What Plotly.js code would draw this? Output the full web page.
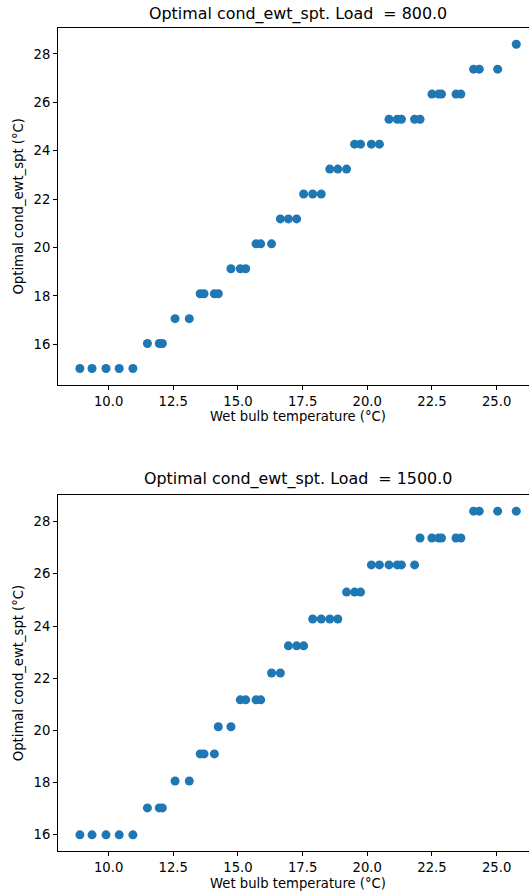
<!DOCTYPE html>
<html>
<head>
<meta charset="utf-8">
<script src="https://cdn.plot.ly/plotly-3.0.1.min.js"></script>
<style>
html, body { margin: 0; padding: 0; overflow: hidden; background: #fff; }
#chart { width: 538px; height: 894px; }
</style>
</head>
<body>
<div id="chart"></div>
<script>
// Wet bulb temperature (°C) — shared by both panels
const wetBulb = [8.89, 9.36, 9.90, 10.41, 10.94, 11.50, 11.96, 12.08, 12.57, 13.12,
  13.54, 13.69, 14.09, 14.24, 14.73, 15.09, 15.30, 15.70, 15.88, 16.30,
  16.64, 16.95, 17.27, 17.54, 17.89, 18.22, 18.55, 18.86, 19.20, 19.51,
  19.74, 20.16, 20.47, 20.84, 21.16, 21.32, 21.83, 22.04, 22.50, 22.76,
  22.87, 23.43, 23.62, 24.11, 24.33, 25.04, 25.76];

// Optimal cond_ewt_spt (°C), Load = 800.0
const spt800 = [15.00, 15.00, 15.00, 15.00, 15.00, 16.03, 16.03, 16.03, 17.06, 17.06,
  18.09, 18.09, 18.09, 18.09, 19.12, 19.12, 19.12, 20.15, 20.15, 20.15,
  21.18, 21.18, 21.18, 22.21, 22.21, 22.21, 23.24, 23.24, 23.24, 24.27,
  24.27, 24.27, 24.27, 25.30, 25.30, 25.30, 25.30, 25.30, 26.34, 26.34,
  26.34, 26.34, 26.34, 27.37, 27.37, 27.37, 28.40];

// Optimal cond_ewt_spt (°C), Load = 1500.0
const spt1500 = [16.00, 16.00, 16.00, 16.00, 16.00, 17.03, 17.03, 17.03, 18.06, 18.06,
  19.10, 19.10, 19.10, 20.14, 20.14, 21.17, 21.17, 21.17, 21.17, 22.20,
  22.20, 23.24, 23.24, 23.24, 24.27, 24.27, 24.27, 24.27, 25.30, 25.30,
  25.30, 26.34, 26.34, 26.34, 26.34, 26.34, 26.34, 27.37, 27.37, 27.37,
  27.37, 27.37, 27.37, 28.40, 28.40, 28.40, 28.40];

const titles = ["Optimal cond_ewt_spt. Load \u00a0= 800.0", "Optimal cond_ewt_spt. Load \u00a0= 1500.0"];
const xTitle = "Wet bulb temperature (°C)";
const yTitle = "Optimal cond_ewt_spt (°C)";
const xTicks = [10, 12.5, 15, 17.5, 20, 22.5, 25];
const yTicks = [16, 18, 20, 22, 24, 26, 28];

const blue = "#1f77b4";
const font = "DejaVu Sans, sans-serif";
const fs = 13.2;

const traces = [
  {x: wetBulb, y: spt800, type: "scatter", mode: "markers", xaxis: "x", yaxis: "y",
   marker: {color: blue, size: 9}},
  {x: wetBulb, y: spt1500, type: "scatter", mode: "markers", xaxis: "x2", yaxis: "y2",
   marker: {color: blue, size: 9}}
];

function xa(anchor) {
  return {
    anchor: anchor, domain: [0, 1], range: [8.044, 26.60],
    tickvals: xTicks, tickformat: ".1f",
    showline: true, linecolor: "#000", linewidth: 1, mirror: true,
    ticks: "outside", ticklen: 4, tickcolor: "#000", tickwidth: 1,
    showgrid: false, zeroline: false,
    tickfont: {family: font, size: fs, color: "#000"},
    title: {text: xTitle, font: {family: font, size: fs, color: "#000"}, standoff: 4}
  };
}
function ya(anchor, domain, range) {
  return {
    anchor: anchor, domain: domain, range: range,
    tickvals: yTicks,
    showline: true, linecolor: "#000", linewidth: 1, mirror: false,
    ticks: "outside", ticklen: 4, tickcolor: "#000", tickwidth: 1,
    showgrid: false, zeroline: false,
    tickfont: {family: font, size: fs, color: "#000"},
    title: {text: yTitle, font: {family: font, size: fs, color: "#000"}, standoff: 6}
  };
}

const layout = {
  width: 538, height: 894,
  margin: {l: 58, r: 0, t: 28, b: 43},
  paper_bgcolor: "#fff", plot_bgcolor: "#fff",
  showlegend: false,
  xaxis: xa("y"),
  yaxis: ya("x", [0.5666, 1], [14.33, 29.07]),
  xaxis2: xa("y2"),
  yaxis2: ya("x2", [0, 0.4326], [15.38, 29.02]),
  annotations: [
    {text: titles[0], xref: "paper", yref: "paper", x: 0.5, y: 1.0165, xanchor: "center", yanchor: "middle",
     showarrow: false, font: {family: font, size: 15.9, color: "#000"}},
    {text: titles[1], xref: "paper", yref: "paper", x: 0.5, y: 0.4526, xanchor: "center", yanchor: "middle",
     showarrow: false, font: {family: font, size: 15.9, color: "#000"}}
  ]
};

Plotly.newPlot("chart", traces, layout, {displayModeBar: false, staticPlot: true});
</script>
</body>
</html>
